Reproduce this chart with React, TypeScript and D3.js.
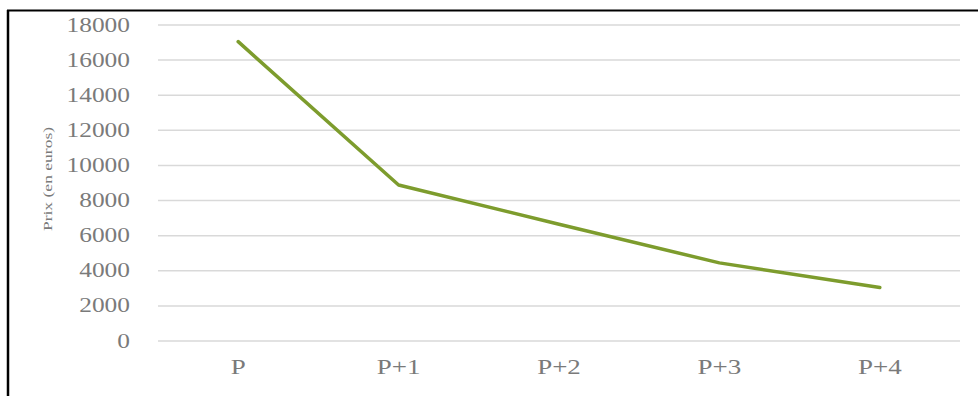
import React from "react";
import * as d3 from "d3";

const categories = ["P", "P+1", "P+2", "P+3", "P+4"];
const prices = [17050, 8890, 6650, 4450, 3050];
const yTicks = [0, 2000, 4000, 6000, 8000, 10000, 12000, 14000, 16000, 18000];
const yTitle = "Prix (en euros)";

export default function App() {
  const W = 978, H = 396;
  const x = d3.scaleBand<string>().domain(categories).range([158, 960]).padding(0);
  const y = d3.scaleLinear().domain([0, 18000]).range([341, 25]);
  const line = d3
    .line<number>()
    .x((_, i) => (x(categories[i]) as number) + x.bandwidth() / 2)
    .y((d) => y(d));
  const font = "'Liberation Serif', 'Times New Roman', serif";
  const sx = 1.27;
  const textColor = "#7a7a7a";
  return (
    <svg width={W} height={H} style={{ position: "absolute", left: 0, top: 0, background: "#fff" }}>
      <rect x={0} y={0} width={W} height={H} fill="#fff" />
      {yTicks.map((t) => (
        <line key={t} x1={158} x2={960} y1={y(t)} y2={y(t)} stroke="#d9d9d9" strokeWidth={1.5} />
      ))}
      {yTicks.map((t) => (
        <text
          key={"l" + t}
          transform={`translate(130,${y(t)}) scale(${sx},1)`}
          textAnchor="end"
          dominantBaseline="central"
          fontFamily={font}
          fontSize={20}
          fill={textColor}
        >
          {t}
        </text>
      ))}
      {categories.map((c) => (
        <text
          key={c}
          transform={`translate(${(x(c) as number) + x.bandwidth() / 2},367) scale(1.35,1)`}
          textAnchor="middle"
          dominantBaseline="central"
          fontFamily={font}
          fontSize={20}
          fill={textColor}
        >
          {c}
        </text>
      ))}
      <text
        transform={`translate(47,179) rotate(-90) scale(1.3,1)`}
        textAnchor="middle"
        dominantBaseline="central"
        fontFamily={font}
        fontSize={13.5}
        fill={textColor}
      >
        {yTitle}
      </text>
      <path d={line(prices) || ""} fill="none" stroke="#7d9c2d" strokeWidth={3.5} strokeLinejoin="round" strokeLinecap="round" />
      <line x1={7} x2={W} y1={10.5} y2={10.5} stroke="#000" strokeWidth={2} />
      <line x1={8} x2={8} y1={10} y2={H} stroke="#000" strokeWidth={2.5} />
    </svg>
  );
}
